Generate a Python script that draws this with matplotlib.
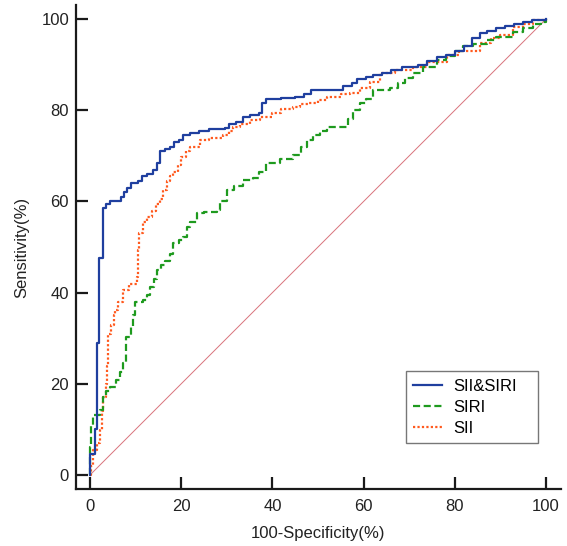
import matplotlib
matplotlib.use("Agg")
import matplotlib.pyplot as plt

plt.rcParams['font.family'] = ['Liberation Sans', 'DejaVu Sans']

# SII&SIRI (blue, solid) - ROC step points (x of jump, y after jump)
combo_x = [0, 0, 1.1, 1.5, 2.0, 2.8, 3.5, 4.3, 6.2, 6.8, 7.5, 8.2, 9.0, 10.5, 11.5, 12.5, 13.8, 14.6, 15.3,
           16.5, 17.5, 18.5, 19.5, 20.5, 22, 24, 26, 29.5, 30.5, 32, 33.5, 35, 37, 37.8, 38.5, 42, 45, 47,
           48.5, 55.3, 55.5, 57.5, 58.5, 60.5, 62, 64, 66, 68.5, 72, 74, 76, 78, 80, 82, 83.7, 85.5, 87,
           89, 91, 93, 95, 97, 100]
combo_y = [0, 4.6, 10, 29, 47.5, 58.5, 59.5, 60, 60, 61, 62, 63, 64, 64.5, 65.5, 66, 67, 68.4, 71,
           71.5, 72, 73, 73.5, 74.5, 75, 75.5, 76, 76.2, 77, 77.5, 78.5, 79, 79.5, 81.5, 82.4, 82.7, 83, 83.5,
           84.4, 84.4, 85.3, 86, 86.8, 87.3, 87.8, 88.2, 88.8, 89.5, 89.9, 90.8, 91.7, 92.2, 93, 94, 95.8, 96.9, 97.5,
           98, 98.5, 99, 99.3, 99.8, 100]

# SIRI (green, dashed)
siri_x = [0, 0, 0.3, 0.7, 2.2, 2.9, 3.5, 4.4, 5.8, 6.5, 7.3, 8.0, 9.1, 9.5, 9.9, 11.7, 12.4, 13.2, 14, 14.6,
          15.5, 16.5, 17.5, 18.3, 19.5, 20.5, 21.2, 22, 23.4, 25, 27.8, 28.5, 30, 31.5, 33.6, 35.8, 37, 38.7,
          41.7, 44.6, 46.2, 47.5, 49, 50.5, 51.9, 55.6, 56.5, 57.7, 59.2, 60.5, 62.1, 65.8, 67.5, 69, 70.9,
          73, 76, 78, 80, 81.9, 84, 87, 89, 92.8, 95, 97.1, 99, 100]
siri_y = [0, 6.2, 11, 13.2, 14.3, 17.2, 18.5, 19.4, 20.8, 22.5, 24.5, 30.3, 32.5, 35, 38, 38.4, 39.5, 41.3, 43, 45,
          46, 47, 48.5, 50.8, 51.5, 52.3, 54.5, 55.5, 57.4, 57.8, 58.1, 60, 62.5, 63.5, 64.7, 65.1, 66.5, 68.4,
          69.3, 70.2, 72, 73.5, 74.5, 75.5, 76.4, 76.4, 78, 80, 81.5, 82.5, 84.4, 84.9, 86, 87, 88.2,
          89.5, 91.1, 92, 93, 94, 94.5, 95.4, 96, 97.2, 98, 99, 99.3, 100]

# SII (orange, dotted)
sii_x = [0, 0.3, 0.7, 1.5, 2.2, 2.6, 2.9, 3.5, 3.8, 4.0, 4.6, 5.2, 5.5, 6.2, 7.3, 8.5, 10.2, 10.6, 10.8, 11.7,
         12.5, 13.5, 14.5, 15.4, 16, 16.8, 17.5, 18.3, 19.2, 19.9, 21, 21.9, 24.1, 26, 29.2, 30.5, 31.4, 33,
         35, 37.3, 40, 42, 44.5, 46, 48, 50, 52, 55, 57, 59.2, 61.4, 63.6, 67, 70.8, 74, 78.2, 81, 85.5,
         88, 90, 92.8, 95, 97.1, 100]
sii_y = [0, 2, 5.5, 7, 9.9, 14, 17.2, 20, 24, 31, 33, 35, 36.2, 38, 40.6, 42, 43.5, 49.3, 53, 55.5,
         56.5, 58, 59.5, 60.5, 62.5, 64.5, 65.5, 66.5, 68, 69.8, 71, 72, 73.5, 74, 74.6, 75.5, 76.4, 77,
         77.8, 78.6, 79.3, 80.3, 80.8, 81.3, 81.5, 82.3, 83, 83.5, 83.7, 84.9, 86.1, 88.2, 88.8, 89.5, 90.5, 92.1, 93, 94.8,
         95.8, 96.5, 98.3, 99, 99.8, 100]

ref_x = [0, 100]
ref_y = [0, 100]
ticks = [0, 20, 40, 60, 80, 100]

W, H = 567, 546
fig = plt.figure(figsize=(W / 100, H / 100), dpi=100)
ax = fig.add_axes([76 / W, 1 - 489 / H, (561 - 76) / W, (489 - 5) / H])

ax.plot(ref_x, ref_y, color='#d9737c', lw=0.7, zorder=1)
ax.plot(combo_x, combo_y, drawstyle='steps-post', color='#1f3f9f', lw=1.6, label='SII&SIRI', zorder=4)
ax.plot(siri_x, siri_y, drawstyle='steps-post', color='#1e9a1e', lw=1.6, ls=(0, (3.2, 1.6)), label='SIRI', zorder=3)
ax.plot(sii_x, sii_y, drawstyle='steps-post', color='#ff5a1e', lw=1.6, ls=(0, (1, 1)), label='SII', zorder=2)

ax.set_xlim(-3.07, 103.3)
ax.set_ylim(-3.07, 103.1)
ax.set_xticks(ticks)
ax.set_yticks(ticks)
for s in ['top', 'right']:
    ax.spines[s].set_visible(False)
for s in ['left', 'bottom']:
    ax.spines[s].set_linewidth(1.6)
    ax.spines[s].set_color('#1a1a1a')
ax.tick_params(direction='in', length=8.5, width=1.6, color='#1a1a1a', labelsize=12, pad=5, labelcolor='#222222')
ax.tick_params(axis='x', pad=7)

ax.set_xlabel('100-Specificity(%)', fontsize=12, color='#222222', labelpad=9)
ax.set_ylabel('Sensitivity(%)', fontsize=12, color='#222222', labelpad=9)

leg = ax.legend(loc='lower left', bbox_to_anchor=(0.680, 0.095, 0.272, 0.15), mode='expand', fontsize=12,
                frameon=True, fancybox=False, edgecolor='#555555', handlelength=1.7, handletextpad=0.7,
                labelspacing=0.35, borderpad=0.45, borderaxespad=0)
leg.get_frame().set_linewidth(1.0)

fig.savefig('out.png', dpi=100)
